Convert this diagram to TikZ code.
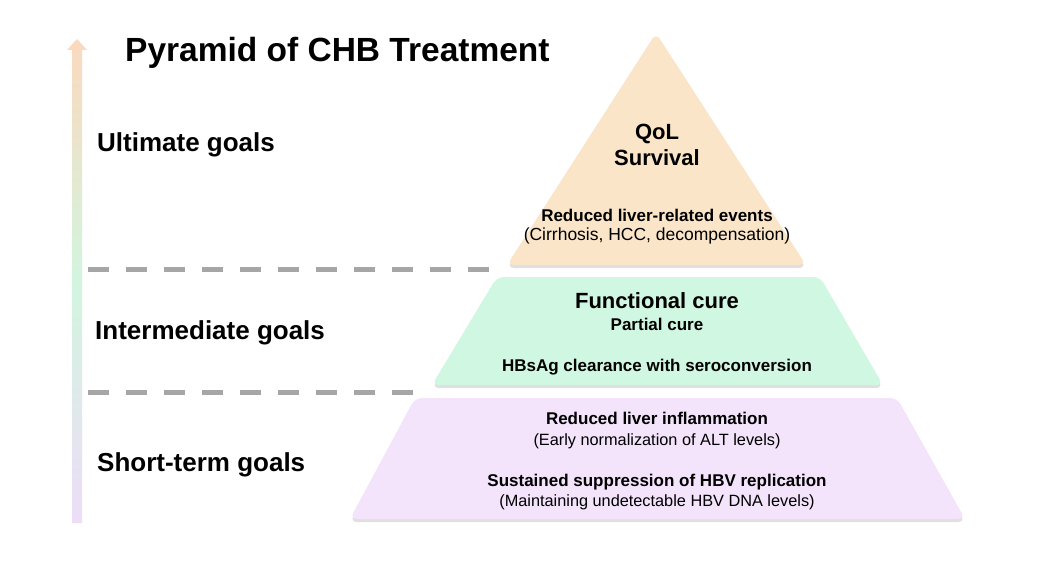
\documentclass[tikz,border=0pt]{standalone}
\usepackage{fontspec}
\setmainfont{Liberation Sans}
\usetikzlibrary{shadows}

\definecolor{ultfill}{HTML}{FAE5C8}
\definecolor{intfill}{HTML}{CFF7E1}
\definecolor{shtfill}{HTML}{F3E3FB}
\definecolor{arrtop}{HTML}{FBD9BE}
\definecolor{arrmid}{HTML}{D2F5DF}
\definecolor{arrbot}{HTML}{EDDDF7}
\definecolor{dashgrey}{HTML}{A6A6A6}

\begin{document}
\begin{tikzpicture}[x=1pt,y=-1pt,inner sep=0pt,
        layer/.style={rounded corners=7pt,
            drop shadow={shadow xshift=0pt,shadow yshift=-3pt,opacity=0.2,fill=black!60}},
        goal/.style={font=\bfseries\fontsize{26}{30}\selectfont,anchor=base west},
        sep/.style={dashgrey,line width=5pt,dash pattern=on 21pt off 17pt},
        big/.style={font=\bfseries\fontsize{22}{26}\selectfont,anchor=base},
        bold/.style={font=\bfseries\fontsize{17}{20}\selectfont,anchor=base},
        plain/.style={font=\fontsize{17.5}{20}\selectfont,anchor=base},
        small/.style={font=\fontsize{16.3}{19}\selectfont,anchor=base}]
    \useasboundingbox[fill=white] (0,0) rectangle (1054,572);

    % rising arrow on the left
    \shade[top color=arrtop,bottom color=arrbot,middle color=arrmid]
        (72,523) -- (72,50) -- (67,50) -- (77,39) -- (87,50) -- (82,50) -- (82,523) -- cycle;

    \node[font=\bfseries\fontsize{33.5}{38}\selectfont,anchor=base west] (title) at (125,62) {Pyramid of CHB Treatment};

    \node[goal] (ult) at (97,152) {Ultimate goals};
    \node[goal] (int) at (95,339) {Intermediate goals};
    \node[goal] (sht) at (97,471) {Short-term goals};

    % separators
    \coordinate (s1a) at (88,269);
    \coordinate (s1b) at (490,269);
    \coordinate (s2a) at (88,392);
    \coordinate (s2b) at (414,392);
    \draw[sep] (s1a) -- (s1b);
    \draw[sep] (s2a) -- (s2b);

    % pyramid layers
    \fill[layer,ultfill] (656,33) -- (806,265) -- (507,265) -- cycle;
    \fill[layer,intfill] (497,277) -- (820,277) -- (883,385) -- (432,385) -- cycle;
    \fill[layer,shtfill] (415,398) -- (897,398) -- (965,519) -- (350,519) -- cycle;

    % top layer
    \node[big] (qol) at (657,140) {QoL};
    \node[big] (surv) at (657,166) {Survival};
    \node[bold] (events) at (657,222) {Reduced liver-related events};
    \node[plain] (cirr) at (657,240) {(Cirrhosis, HCC, decompensation)};

    % middle layer
    \node[big] (func) at (657,308) {Functional cure};
    \node[bold] (part) at (657,330) {Partial cure};
    \node[bold] (hbsag) at (657,371) {HBsAg clearance with seroconversion};

    % bottom layer
    \node[bold] (infl) at (657,424) {Reduced liver inflammation};
    \node[small] (alt) at (657,445) {(Early normalization of ALT levels)};
    \node[bold] (supp) at (657,486) {Sustained suppression of HBV replication};
    \node[small] (dna) at (657,506) {(Maintaining undetectable HBV DNA levels)};
\end{tikzpicture}
\end{document}
